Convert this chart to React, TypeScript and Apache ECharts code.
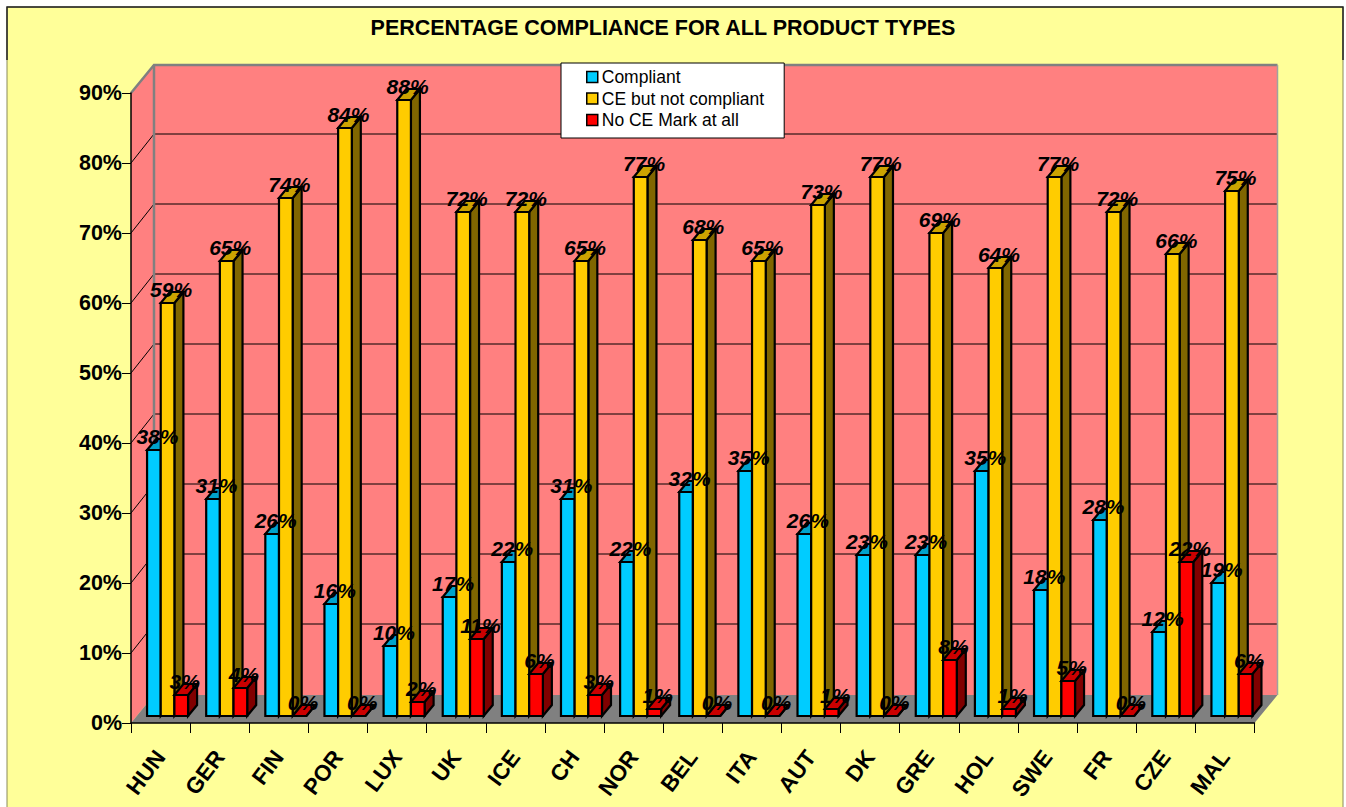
import React, { useEffect, useRef } from "react";
import * as echarts from "echarts";

const categories = ["HUN","GER","FIN","POR","LUX","UK","ICE","CH","NOR","BEL","ITA","AUT","DK","GRE","HOL","SWE","FR","CZE","MAL"];
const compliant = [38,31,26,16,10,17,22,31,22,32,35,26,23,23,35,18,28,12,19];
const ceNotCompliant = [59,65,74,84,88,72,72,65,77,68,65,73,77,69,64,77,72,66,75];
const noCeMark = [3,4,0,0,2,11,6,3,1,0,0,1,0,8,1,5,0,22,6];
const gridTicks = [0,10,20,30,40,50,60,70,80,90];
const seriesNames = ["Compliant","CE but not compliant","No CE Mark at all"];
const seriesValues = [compliant, ceNotCompliant, noCeMark];
const faces = [
  { front: "#00CCFF", top: "#00A3CC", side: "#006680" },
  { front: "#FFCC00", top: "#CCA300", side: "#806600" },
  { front: "#FF0000", top: "#CC0000", side: "#800000" },
];

const FONT = '"Liberation Sans", Arial, sans-serif';
const WALL_DX = 23, WALL_DY = -28;
const BAR_OFF_X = 7, BAR_OFF_Y = -7;
const BAR_DX = 9, BAR_DY = -11;
const BAR_W = 13.67;

const edge = { stroke: "#000", lineWidth: 2.2, lineJoin: "miter" };

function barItem(seriesIdx: number) {
  return (params: any, api: any) => {
    const [cx, y] = api.coord([api.value(0), api.value(1)]);
    const [, y0] = api.coord([api.value(0), 0]);
    const l = cx + BAR_OFF_X + (seriesIdx - 1.5) * BAR_W;
    const r = l + BAR_W;
    const t = y + BAR_OFF_Y;
    const b = y0 + BAR_OFF_Y;
    const c = faces[seriesIdx];
    return {
      type: "group",
      children: [
        { type: "polygon", shape: { points: [[r, t], [r + BAR_DX, t + BAR_DY], [r + BAR_DX, b + BAR_DY], [r, b]] }, style: { fill: c.side, ...edge } },
        { type: "polygon", shape: { points: [[l, t], [l + BAR_DX, t + BAR_DY], [r + BAR_DX, t + BAR_DY], [r, t]] }, style: { fill: c.top, ...edge } },
        { type: "rect", shape: { x: l, y: t, width: BAR_W, height: b - t }, style: { fill: c.front, ...edge } },
      ],
    };
  };
}

function labelItem(seriesIdx: number) {
  return (params: any, api: any) => {
    const v = api.value(1);
    const [cx, y] = api.coord([api.value(0), v]);
    const mid = cx + BAR_OFF_X + (seriesIdx - 1) * BAR_W + BAR_DX / 2 - 1;
    return {
      type: "text",
      x: mid,
      y: y + BAR_OFF_Y - 14,
      style: {
        text: v + "%",
        fill: "#000",
        font: `italic bold 21px ${FONT}`,
        textAlign: "center",
        textVerticalAlign: "middle",
      },
    };
  };
}

function planeItem(params: any, api: any) {
  const g = params.coordSys;
  const x0 = g.x, x1 = g.x + g.width, yT = g.y, yB = g.y + g.height;
  const bx0 = x0 + WALL_DX, bx1 = x1 + WALL_DX, byT = yT + WALL_DY, byB = yB + WALL_DY;
  return {
    type: "group",
    children: [
      { type: "polygon", shape: { points: [[bx0, byT], [bx1, byT], [bx1, byB], [bx0, byB]] }, style: { fill: "#FF8080" } },
      { type: "polygon", shape: { points: [[x0, yT], [bx0, byT], [bx0, byB], [x0, yB]] }, style: { fill: "#FF8080" } },
      { type: "polygon", shape: { points: [[x0, yB], [bx0, byB], [bx1, byB], [x1, yB]] }, style: { fill: "#808080" } },
    ],
  };
}

function gridLineItem(params: any, api: any) {
  const g = params.coordSys;
  const x0 = g.x, x1 = g.x + g.width;
  const v = api.value(0);
  const y = api.coord([0, v])[1];
  if (v === 0 || v === 90) return { type: "group", children: [] };
  return {
    type: "polyline",
    shape: { points: [[x0, y], [x0 + WALL_DX, y + WALL_DY - 1], [x1 + WALL_DX, y + WALL_DY - 1]] },
    style: { fill: "none", stroke: "#000", lineWidth: 1 },
  };
}

function wallEdgeItem(params: any, api: any) {
  const g = params.coordSys;
  const x0 = g.x, x1 = g.x + g.width, yT = g.y, yB = g.y + g.height;
  const s = { stroke: "#808080", lineWidth: 2.5, fill: "none" };
  return {
    type: "group",
    children: [
      { type: "polyline", shape: { points: [[x0, yT], [x0 + WALL_DX, yT + WALL_DY], [x1 + WALL_DX, yT + WALL_DY]] }, style: s },
      { type: "line", shape: { x1: x0 + WALL_DX, y1: yT + WALL_DY, x2: x0 + WALL_DX, y2: yB + WALL_DY }, style: { stroke: "#808080", lineWidth: 2.5 } },
      { type: "line", shape: { x1: x1 + WALL_DX, y1: yT + WALL_DY, x2: x1 + WALL_DX, y2: yB + WALL_DY }, style: { stroke: "#A0A0A0", lineWidth: 1.5 } },
    ],
  };
}

export default function App() {
  const ref = useRef<HTMLDivElement>(null);
  useEffect(() => {
    document.body.style.margin = "0";
    const chart = echarts.init(ref.current!, undefined, { renderer: "svg" });
    const barSeries = seriesValues.map((vals, s) => ({
      type: "custom",
      name: seriesNames[s],
      z: 5 + s,
      renderItem: barItem(s),
      encode: { x: 0, y: 1 },
      itemStyle: { color: faces[s].front },
      data: vals.map((v, i) => [i, v]),
    }));
    const labelSeries = seriesValues.map((vals, s) => ({
      type: "custom",
      name: seriesNames[s] + " labels",
      z: 10 + s,
      renderItem: labelItem(s),
      encode: { x: 0, y: 1 },
      data: vals.map((v, i) => [i, v]),
    }));
    chart.setOption({
      animation: false,
      backgroundColor: "#fff",
      textStyle: { fontFamily: FONT },
      title: {
        text: "PERCENTAGE COMPLIANCE FOR ALL PRODUCT TYPES",
        left: 658,
        top: 12,
        textAlign: "center",
        textStyle: { fontFamily: FONT, fontSize: 21.5, fontWeight: "bold", color: "#000" },
      },
      graphic: [
        { type: "rect", z: -10, shape: { x: 7, y: 7, width: 1336, height: 810 }, style: { fill: "#FFFF99", stroke: "#8a8a5a", lineWidth: 1 } },
        { type: "polyline", z: -9, shape: { points: [[7, 60], [7, 7], [1343, 7], [1343, 60]] }, style: { fill: "none", stroke: "#222", lineWidth: 1.5 } },
      ],
      legend: {
        orient: "vertical",
        left: 561,
        top: 63,
        z: 8,
        data: seriesNames.map((n, s) => ({
          name: n,
          icon: "rect",
          itemStyle: { color: faces[s].front, borderColor: "#000", borderWidth: 1.5 },
        })),
        itemWidth: 11,
        itemHeight: 11,
        itemGap: 3.5,
        padding: [5, 20, 9, 25],
        backgroundColor: "#fff",
        borderColor: "#000",
        borderWidth: 1,
        borderRadius: 0,
        selectedMode: false,
        textStyle: { fontFamily: FONT, fontSize: 17.5, color: "#000", padding: [0, 0, 0, -1] },
      },
      grid: { left: 131, top: 93, width: 1123.5, height: 630 },
      xAxis: {
        type: "category",
        data: categories,
        z: 4,
        axisLine: { lineStyle: { color: "#000", width: 1.5 } },
        axisTick: { show: true, alignWithLabel: false, length: 10, lineStyle: { color: "#000", width: 1 } },
        axisLabel: { rotate: 53, margin: 30, fontFamily: FONT, fontSize: 22.5, fontWeight: "bold", color: "#000", interval: 0 },
        splitLine: { show: false },
      },
      yAxis: {
        type: "value",
        min: 0,
        max: 90,
        interval: 10,
        z: 4,
        axisLine: { show: true, lineStyle: { color: "#000", width: 1.5 } },
        axisTick: { show: true, length: 9, lineStyle: { color: "#000", width: 1 } },
        axisLabel: { formatter: "{value}%", margin: 9, fontFamily: FONT, fontSize: 21.5, fontWeight: "bold", color: "#000" },
        splitLine: { show: false },
      },
      series: [
        { type: "custom", name: "walls", z: 1, renderItem: planeItem, data: [[0]], silent: true },
        { type: "custom", name: "gridlines", z: 2, renderItem: gridLineItem, encode: { y: 0 }, data: gridTicks.map((t) => [t]), silent: true },
        { type: "custom", name: "wall edges", z: 3, renderItem: wallEdgeItem, data: [[0]], silent: true },
        ...barSeries,
        ...labelSeries,
      ],
    });
    return () => chart.dispose();
  }, []);
  return <div ref={ref} style={{ position: "absolute", left: 0, top: 0, width: 1346, height: 807 }} />;
}
